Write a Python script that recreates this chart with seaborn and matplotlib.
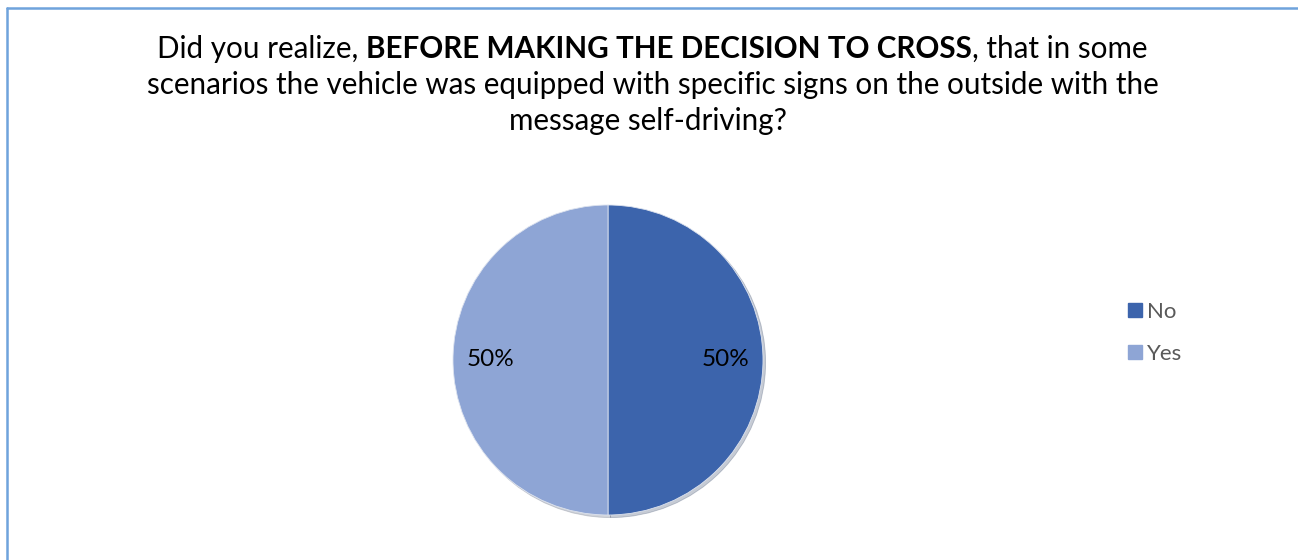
import matplotlib
matplotlib.use("Agg")
import matplotlib.pyplot as plt
from matplotlib.lines import Line2D
import seaborn as sns

# Survey answers and their shares (%)
answers = ["No", "Yes"]
shares = [50, 50]
colors = ["#3C64AC", "#8EA5D5"]

title_line1 = ["Did you realize, ", "BEFORE MAKING THE DECISION TO CROSS", ", that in some"]
title_line2 = "scenarios the vehicle was equipped with specific signs on the outside with the"
title_line3 = "message self-driving?"

sns.set_theme(style="white")
plt.rcParams["font.family"] = ["Lato", "DejaVu Sans"]

W, H = 1298, 560
fig = plt.figure(figsize=(W / 100, H / 100), dpi=100)
fig.patch.set_facecolor("white")

# Pie placement in pixels (axes spans the pie plus a small margin)
cx, cy, r = 608, 360, 155
pad = 1.05
half = r * pad
ax = fig.add_axes([(cx - half) / W, (H - cy - half) / H, 2 * half / W, 2 * half / H])
wedges, texts, autotexts = ax.pie(
    shares,
    colors=colors,
    startangle=90,
    counterclock=False,
    autopct="%1.0f%%",
    pctdistance=0.76,
    textprops={"fontsize": 17.5, "color": "black"},
    wedgeprops={"linewidth": 0.6, "edgecolor": "#DDE3EF"},
    shadow={"ox": 0.012, "oy": -0.012, "shade": 0.5, "alpha": 0.25},
)
ax.set_xlim(-pad, pad)
ax.set_ylim(-pad, pad)
ax.set_aspect("equal")
ax.axis("off")

# Legend with small square markers
handles = [Line2D([0], [0], marker="s", linestyle="none", markersize=10,
                  markerfacecolor=c, markeredgecolor=c) for c in colors]
leg = fig.legend(handles, answers, loc="upper left",
                 bbox_to_anchor=(1115 / W, 1 - 293 / H),
                 frameon=False, fontsize=16, labelspacing=1.0,
                 handletextpad=0.05, handlelength=1.0, borderaxespad=0)
for t in leg.get_texts():
    t.set_color("#595959")

# Title: centered lines, first one mixing regular and bold runs
fs = 21.3
fig.canvas.draw()
renderer = fig.canvas.get_renderer()

def text_width(s, weight):
    t = fig.text(0, 0, s, fontsize=fs, fontweight=weight)
    w = t.get_window_extent(renderer).width
    t.remove()
    return w

weights = ["normal", "bold", "normal"]
widths = [text_width(s, w) for s, w in zip(title_line1, weights)]
x0 = 652 - sum(widths) / 2
y1 = 1 - 58 / H
for s, w, wd in zip(title_line1, weights, widths):
    fig.text(x0 / W, y1, s, fontsize=fs, fontweight=w, color="black",
             ha="left", va="baseline")
    x0 += wd

fig.text(653 / W, 1 - 94 / H, title_line2, fontsize=fs, color="black",
         ha="center", va="baseline")
fig.text(648 / W, 1 - 130 / H, title_line3, fontsize=fs, color="black",
         ha="center", va="baseline")

# Chart border (top and left edges visible)
border = "#6FA3DC"
fig.add_artist(Line2D([6.5 / W, 1], [1 - 7.5 / H, 1 - 7.5 / H], color=border, lw=1.8,
                      transform=fig.transFigure))
fig.add_artist(Line2D([6.5 / W, 6.5 / W], [0, 1 - 7.5 / H], color=border, lw=1.8,
                      transform=fig.transFigure))

fig.savefig("out.png", dpi=100, facecolor="white")
